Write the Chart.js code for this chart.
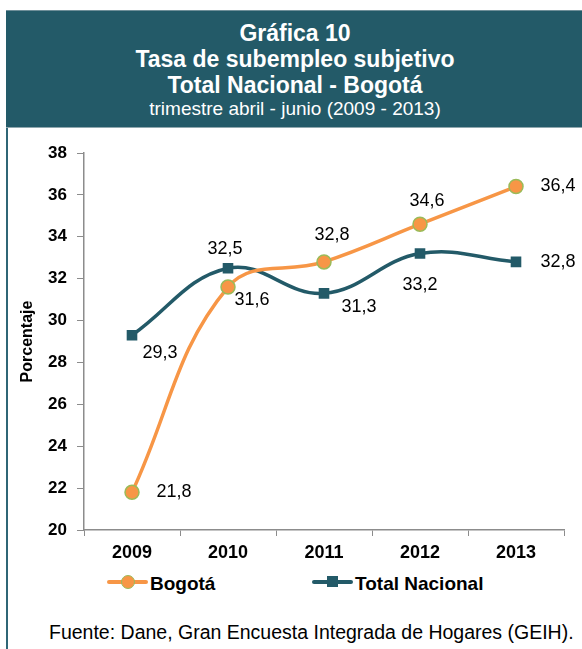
<!DOCTYPE html>
<html lang="es">
<head>
  <meta charset="UTF-8" />
  <title>Gráfica 10 - Tasa de subempleo subjetivo</title>
  <script src="https://cdn.jsdelivr.net/npm/chart.js"></script>
  <style>
    body { margin: 0; background: #fff; font-family: "Liberation Sans", Arial, sans-serif; }
    #frame { position: absolute; left: 6px; top: 10px; width: 576px; height: 639px; border-left: 2px solid #2f6676; }
    #header { position: absolute; left: -2px; top: 0; width: 578px; height: 118px; background: #235a68;
              border-top: 1px solid #6f8f99; border-bottom: 1px solid #8fa7ae; box-sizing: border-box;
              color: #fff; text-align: center; padding-top: 9px; }
    #header .t { font-weight: bold; font-size: 23px; line-height: 26px; }
    #header .s { font-size: 19px; line-height: 22px; }
    #chartBox { position: absolute; left: 8px; top: 130px; width: 574px; height: 438px; }
    .leg { position: absolute; top: 574px; font-weight: bold; font-size: 19px; line-height: 19px; color: #000; }
    .legline { position: absolute; height: 4px; border-radius: 2px; }
    .legmark { position: absolute; }
    #footer { position: absolute; left: 49px; top: 623px; font-size: 19.5px; line-height: 19px; color: #000; white-space: nowrap; }
  </style>
</head>
<body>
  <div id="frame">
    <div id="header">
      <div class="t">Gráfica 10</div>
      <div class="t">Tasa de subempleo subjetivo</div>
      <div class="t">Total Nacional - Bogotá</div>
      <div class="s">trimestre abril - junio (2009 - 2013)</div>
    </div>
  </div>

  <div id="chartBox"><canvas id="chart" width="574" height="438"></canvas></div>

  <!-- legend -->
  <div class="legline" style="left:107px; top:580px; width:41px; background:#f79646;"></div>
  <div class="legmark" style="left:121px; top:575px; width:12px; height:12px; border-radius:50%; background:#f79646; border:1px solid #9bbb59;"></div>
  <div class="leg" style="left:150px;">Bogotá</div>
  <div class="legline" style="left:312px; top:580px; width:41px; background:#235a68;"></div>
  <div class="legmark" style="left:327px; top:576px; width:11px; height:11px; background:#235a68;"></div>
  <div class="leg" style="left:355px;">Total Nacional</div>

  <div id="footer">Fuente: Dane, Gran Encuesta Integrada de Hogares (GEIH).</div>

  <script>
    const years = ['2009', '2010', '2011', '2012', '2013'];
    const bogota = [21.8, 31.6, 32.8, 34.6, 36.4];
    const totalNacional = [29.3, 32.5, 31.3, 33.2, 32.8];
    const yTicks = [20, 22, 24, 26, 28, 30, 32, 34, 36, 38];

    // where each value label sits relative to its point (px)
    const bogotaLabelOffsets = [[42, 0], [24, 13], [8, -27], [7, -23], [42, 0]];
    const totalLabelOffsets = [[28, 18], [-3, -19], [35, 14], [0, 31], [42, 0]];

    const FONT = '"Liberation Sans", Arial, sans-serif';

    // small plugin to write the values next to the points
    const valueLabels = {
      id: 'valueLabels',
      afterDatasetsDraw(chart) {
        const ctx = chart.ctx;
        ctx.save();
        ctx.font = '18px ' + FONT;
        ctx.fillStyle = '#000';
        ctx.textAlign = 'center';
        ctx.textBaseline = 'middle';
        chart.data.datasets.forEach((ds, i) => {
          const meta = chart.getDatasetMeta(i);
          const offs = ds.labelOffsets;
          meta.data.forEach((pt, j) => {
            const txt = ds.data[j].toFixed(1).replace('.', ',');
            ctx.fillText(txt, pt.x + offs[j][0], pt.y + offs[j][1]);
          });
        });
        ctx.restore();
      }
    };

    new Chart(document.getElementById('chart'), {
      type: 'line',
      data: {
        labels: years,
        datasets: [
          {
            label: 'Bogotá',
            data: bogota,
            labelOffsets: bogotaLabelOffsets,
            borderColor: '#f79646',
            backgroundColor: '#f79646',
            borderWidth: 3.5,
            tension: 0.4,
            pointStyle: 'circle',
            pointRadius: 7,
            pointBorderColor: '#9bbb59',
            pointBorderWidth: 1.5,
            pointBackgroundColor: '#f79646'
          },
          {
            label: 'Total Nacional',
            data: totalNacional,
            labelOffsets: totalLabelOffsets,
            borderColor: '#235a68',
            backgroundColor: '#235a68',
            borderWidth: 3.5,
            tension: 0.4,
            pointStyle: 'rect',
            pointRadius: 7.5,
            pointBorderWidth: 0,
            pointBackgroundColor: '#235a68'
          }
        ]
      },
      options: {
        responsive: false,
        animation: false,
        layout: { padding: { top: 23, right: 18, left: 0, bottom: 0 } },
        plugins: {
          legend: { display: false },
          tooltip: { enabled: false }
        },
        scales: {
          x: {
            type: 'category',
            offset: true,
            grid: { offset: true, drawOnChartArea: false, tickLength: 6, color: '#8c8c8c' },
            border: { color: '#8c8c8c', width: 1.5 },
            ticks: { color: '#000', padding: 6, font: { family: FONT, size: 18, weight: 'bold' } },
            afterFit(scale) { scale.height = 38; }
          },
          y: {
            min: 20,
            max: 38,
            afterBuildTicks(scale) { scale.ticks = yTicks.map(v => ({ value: v })); },
            grid: { drawOnChartArea: false, tickLength: 7, color: '#8c8c8c' },
            border: { color: '#8c8c8c', width: 1.5 },
            ticks: { color: '#000', padding: 10, font: { family: FONT, size: 17, weight: 'bold' } },
            title: {
              display: true,
              text: 'Porcentaje',
              color: '#000',
              font: { family: FONT, size: 16, weight: 'bold' },
              padding: { top: 10, bottom: 0 }
            },
            afterFit(scale) { scale.width = 76; }
          }
        }
      },
      plugins: [valueLabels]
    });
  </script>
</body>
</html>
